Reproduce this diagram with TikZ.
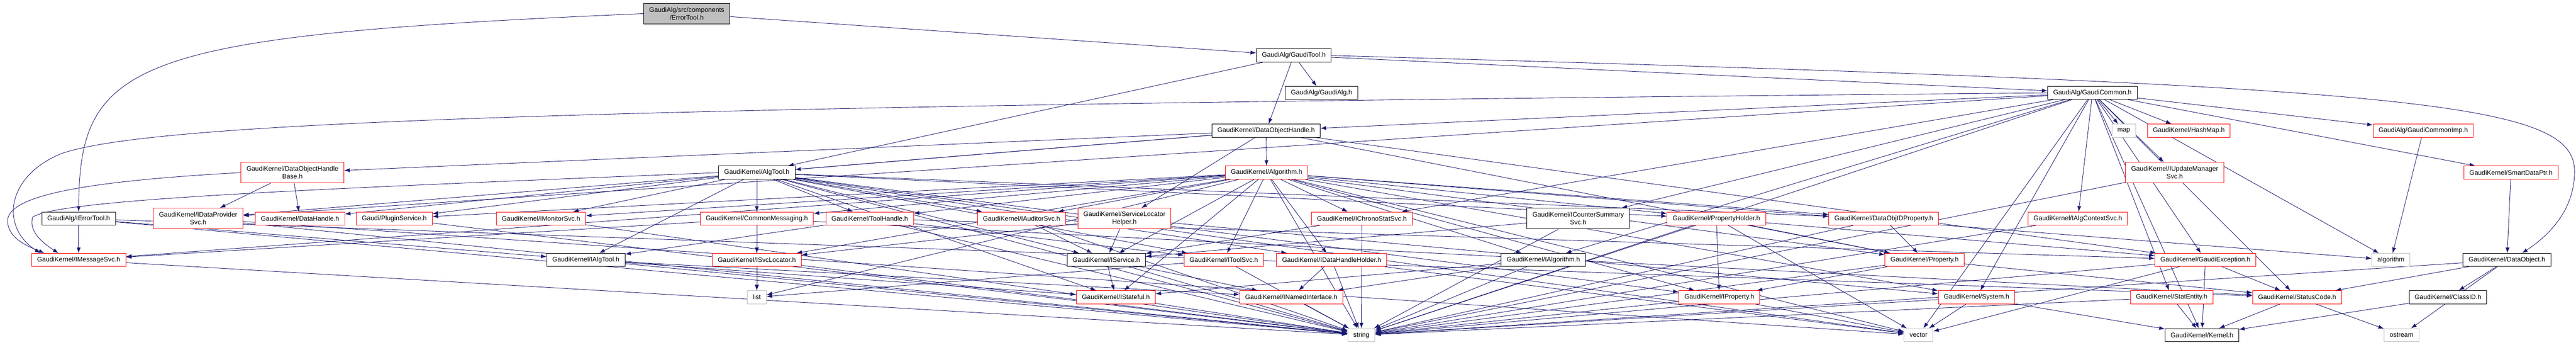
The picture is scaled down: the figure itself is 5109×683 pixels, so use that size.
\documentclass[tikz,border=0pt]{standalone}
\usepackage{fontspec}
\setmainfont{Liberation Sans}
\usetikzlibrary{arrows.meta, backgrounds}
\definecolor{edgeblue}{HTML}{191970}
\definecolor{grey75}{HTML}{BFBFBF}

\begin{document}
\begin{tikzpicture}[
            x=1pt, y=-1pt,
            file/.style={rectangle, draw=black, fill=white, line width=1pt, font=\fontsize{13}{15.3}\selectfont, inner xsep=11pt, inner ysep=2pt, minimum height=26pt, align=center}, % header shown in full
            cut/.style={file, draw=red}, % header whose own includes are hidden
            sys/.style={file, draw=grey75}, % system header
            root/.style={file, fill=grey75, minimum height=40pt}, % the file itself
            two/.style={minimum height=41pt}, % name on two lines
            dep/.style={draw=edgeblue, line width=0.9pt, -{Latex[length=11pt,width=8pt]}}
            ]
        \useasboundingbox (0,0) rectangle (5109,683);

                % top rows
                \node[root] (ET) at (1362,27) {GaudiAlg/src/components\\/ErrorTool.h};
                \node[file] (GT) at (2566,110) {GaudiAlg/GaudiTool.h};
                \node[file] (GA) at (2621,184) {GaudiAlg/GaudiAlg.h};
                \node[file] (GC) at (4150,184) {GaudiAlg/GaudiCommon.h};
                \node[file] (DOH) at (2511,259) {GaudiKernel/DataObjectHandle.h};
                \node[sys] (map) at (4212,259) {map};
                \node[cut] (HM) at (4341,259) {GaudiKernel/HashMap.h};
                \node[cut] (GCI) at (4806,259) {GaudiAlg/GaudiCommonImp.h};
                \node[cut, two] (DOHB) at (580,342) {GaudiKernel/DataObjectHandle\\Base.h};
                \node[file] (AT) at (1501,342) {GaudiKernel/AlgTool.h};
                \node[cut] (Alg) at (2512,342) {GaudiKernel/Algorithm.h};
                \node[cut, two] (IUMS) at (4313,342) {GaudiKernel/IUpdateManager\\Svc.h};
                \node[cut] (SDP) at (4980,342) {GaudiKernel/SmartDataPtr.h};

                % middle row
                \node[file] (IET) at (156,433) {GaudiAlg/IErrorTool.h};
                \node[cut, two] (IDPS) at (393,433) {GaudiKernel/IDataProvider\\Svc.h};
                \node[cut] (DH) at (595,433) {GaudiKernel/DataHandle.h};
                \node[cut] (PS) at (782,433) {Gaudi/PluginService.h};
                \node[cut] (IMon) at (1073,433) {GaudiKernel/IMonitorSvc.h};
                \node[cut] (CM) at (1501,433) {GaudiKernel/CommonMessaging.h};
                \node[cut] (TH) at (1725,433) {GaudiKernel/ToolHandle.h};
                \node[cut] (IAud) at (2026,433) {GaudiKernel/IAuditorSvc.h};
                \node[cut, two] (SLH) at (2230,433) {GaudiKernel/ServiceLocator\\Helper.h};
                \node[cut] (ICS) at (2701,433) {GaudiKernel/IChronoStatSvc.h};
                \node[file, two] (ICSS) at (3130,433) {GaudiKernel/ICounterSummary\\Svc.h};
                \node[cut] (PH) at (3404,433) {GaudiKernel/PropertyHolder.h};
                \node[cut] (DOIP) at (3736,433) {GaudiKernel/DataObjIDProperty.h};
                \node[cut] (IACS) at (4121,433) {GaudiKernel/IAlgContextSvc.h};

                % lower rows
                \node[cut] (IMS) at (156,515) {GaudiKernel/IMessageSvc.h};
                \node[file] (IAT) at (1162,515) {GaudiKernel/IAlgTool.h};
                \node[cut] (ISL) at (1501,515) {GaudiKernel/ISvcLocator.h};
                \node[file] (IS) at (2194,515) {GaudiKernel/IService.h};
                \node[cut] (ITS) at (2427,515) {GaudiKernel/IToolSvc.h};
                \node[cut] (IDHH) at (2641,515) {GaudiKernel/IDataHandleHolder.h};
                \node[file] (IA) at (3061,515) {GaudiKernel/IAlgorithm.h};
                \node[cut] (Prop) at (3817,515) {GaudiKernel/Property.h};
                \node[cut] (GE) at (4374,515) {GaudiKernel/GaudiException.h};
                \node[sys] (algo) at (4742,515) {algorithm};
                \node[file] (DO) at (4972,515) {GaudiKernel/DataObject.h};
                \node[sys] (list) at (1501,589) {list};
                \node[cut] (IST) at (2213,589) {GaudiKernel/IStateful.h};
                \node[cut] (INI) at (2561,589) {GaudiKernel/INamedInterface.h};
                \node[cut] (IP) at (3410,589) {GaudiKernel/IProperty.h};
                \node[cut] (Sys) at (3920,589) {GaudiKernel/System.h};
                \node[cut] (SE) at (4307,589) {GaudiKernel/StatEntity.h};
                \node[cut] (SC) at (4556,589) {GaudiKernel/StatusCode.h};
                \node[file] (CID) at (4855,589) {GaudiKernel/ClassID.h};
                \node[sys] (str) at (2700,664) {string};
                \node[sys] (vec) at (3805,664) {vector};
                \node[file] (Ker) at (4367,664) {GaudiKernel/Kernel.h};
                \node[sys] (ostr) at (4763,664) {ostream};

                % includes, one line per including file
                \begin{scope}[on background layer]
                \draw[dep] (ET.west) .. controls (260,70) and (158,120) .. (IET.north);
                \draw[dep] (GT.east) .. controls (4800,170) and (5106,200) .. (5106,340) .. controls (5106,420) and (5050,470) .. ([xshift=30pt]DO.north);
                \draw[dep] (GC.west) .. controls (1200,210) and (300,240) .. (120,305) .. controls (12,350) and (0,450) .. ([xshift=-76pt]IMS.north);
                \draw[dep] (DOHB.west) .. controls (150,360) and (12,390) .. (15,440) .. controls (18,475) and (60,490) .. ([xshift=-68pt]IMS.north);
                \draw[dep] (AT.west) .. controls (600,375) and (120,395) .. (65,430) .. controls (55,460) and (90,485) .. ([xshift=-40pt]IMS.north);
                \foreach \t in {GT} \draw[dep] (ET) -- (\t);
                \foreach \t in {GA,GC,DOH,AT} \draw[dep] (GT) -- (\t);
                \foreach \t in {IMS,IAT,SC,str} \draw[dep] (IET) -- (\t);
                \foreach \t in {GCI,map,HM,IUMS,SDP,IACS,ICS,ICSS,IDPS,DOH,IA,GE,SE,SC,Sys,algo,str,vec,Ker} \draw[dep] (GC) -- (\t);
                \foreach \t in {DOHB,AT,Alg,SLH,IDPS,GE,Prop} \draw[dep] (DOH) -- (\t);
                \foreach \t in {IDPS,DH} \draw[dep] (DOHB) -- (\t);
                \foreach \t in {CM,ISL,TH,PS,DH,IMon,IAud,IAT,IS,ITS,IDHH,PH,DOIP,IST,IP,list,str,vec} \draw[dep] (AT) -- (\t);
                \foreach \t in {CM,ISL,TH,PS,IMon,IAud,ICS,IMS,IS,ITS,IDHH,IA,PH,DOIP,Prop,IST,IP,Sys,algo,list,str,vec} \draw[dep] (Alg) -- (\t);
                \foreach \t in {str} \draw[dep] (IUMS) -- (\t);
                \foreach \t in {DO} \draw[dep] (SDP) -- (\t);
                \foreach \t in {algo} \draw[dep] (GCI) -- (\t);
                \foreach \t in {str,vec} \draw[dep] (IDPS) -- (\t);
                \foreach \t in {str} \draw[dep] (PS) -- (\t);
                \foreach \t in {str} \draw[dep] (IMon) -- (\t);
                \foreach \t in {ISL,IMS,SC} \draw[dep] (CM) -- (\t);
                \foreach \t in {IAT,ITS,GE,str} \draw[dep] (TH) -- (\t);
                \foreach \t in {IS,str} \draw[dep] (IAud) -- (\t);
                \foreach \t in {ISL,IS,Sys} \draw[dep] (SLH) -- (\t);
                \foreach \t in {IS,str} \draw[dep] (ICS) -- (\t);
                \foreach \t in {IS,str} \draw[dep] (ICSS) -- (\t);
                \foreach \t in {IP,Prop,GE,str,vec} \draw[dep] (PH) -- (\t);
                \foreach \t in {Prop,str} \draw[dep] (DOIP) -- (\t);
                \foreach \t in {str} \draw[dep] (IACS) -- (\t);
                \foreach \t in {str} \draw[dep] (IMS) -- (\t);
                \foreach \t in {IST,INI,str} \draw[dep] (IAT) -- (\t);
                \foreach \t in {list,str} \draw[dep] (ISL) -- (\t);
                \foreach \t in {IST,INI,str} \draw[dep] (IS) -- (\t);
                \foreach \t in {list,str} \draw[dep] (ITS) -- (\t);
                \foreach \t in {INI,str,vec} \draw[dep] (IDHH) -- (\t);
                \foreach \t in {INI,IST,str} \draw[dep] (IA) -- (\t);
                \foreach \t in {IP,SC,str} \draw[dep] (Prop) -- (\t);
                \foreach \t in {SC,Ker,str,vec} \draw[dep] (GE) -- (\t);
                \foreach \t in {SC,CID,ostr,str} \draw[dep] (DO) -- (\t);
                \foreach \t in {str,vec} \draw[dep] (IP) -- (\t);
                \foreach \t in {Ker,str,vec} \draw[dep] (Sys) -- (\t);
                \foreach \t in {Ker,str} \draw[dep] (SE) -- (\t);
                \foreach \t in {ostr,Ker} \draw[dep] (SC) -- (\t);
                \foreach \t in {Ker} \draw[dep] (CID) -- (\t);
                \foreach \t in {str} \draw[dep] (IST) -- (\t);
                \foreach \t in {str} \draw[dep] (INI) -- (\t);
                \end{scope}

            \end{tikzpicture}
\end{document}
